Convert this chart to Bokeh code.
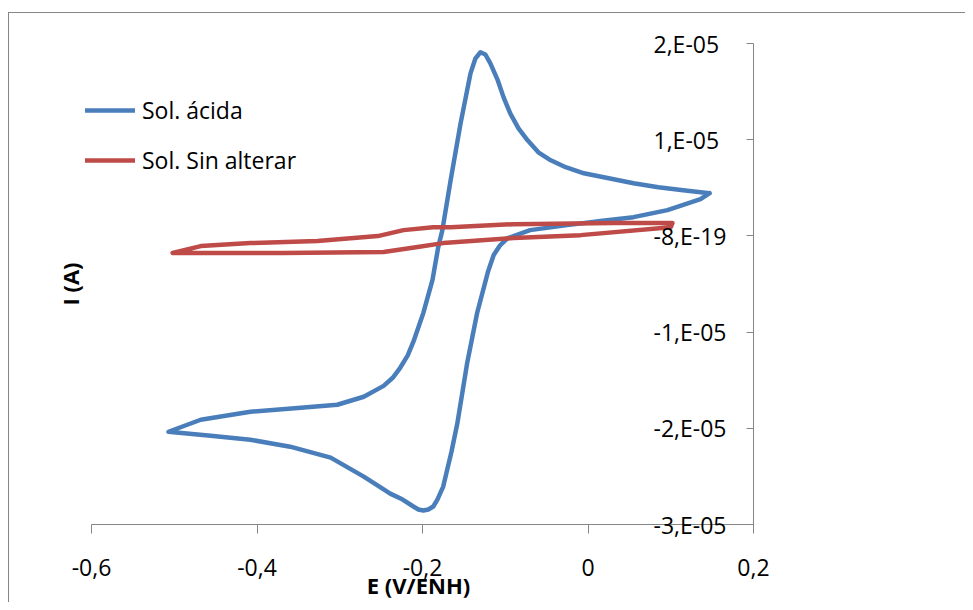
from bokeh.plotting import figure
from bokeh.models import LinearAxis, FixedTicker, Range1d, Legend, LegendItem
from bokeh.embed import file_html
from bokeh.resources import INLINE

# ---- data: E in V vs ENH, I in units of 1e-5 A ----
e_acid = [0.147, 0.136, 0.096, 0.055, 0.015, -0.025, -0.070, -0.097, -0.106, -0.114,
          -0.121, -0.134, -0.146, -0.158, -0.165, -0.175, -0.182, -0.187, -0.193, -0.199,
          -0.205, -0.211, -0.224, -0.239, -0.254, -0.271, -0.311, -0.360, -0.408, -0.456,
          -0.507, -0.468, -0.408, -0.347, -0.303, -0.271, -0.247, -0.236, -0.227, -0.218,
          -0.211, -0.199, -0.188, -0.181, -0.176, -0.166, -0.154, -0.142, -0.136, -0.130,
          -0.124, -0.118, -0.109, -0.102, -0.094, -0.084, -0.073, -0.060, -0.045, -0.027,
          -0.005, 0.025, 0.055, 0.085, 0.115, 0.136, 0.147]
i_acid = [0.444, 0.382, 0.268, 0.195, 0.154, 0.112, 0.060, -0.023, -0.095, -0.199,
          -0.376, -0.801, -1.320, -1.953, -2.243, -2.606, -2.741, -2.813, -2.844, -2.855,
          -2.844, -2.813, -2.741, -2.679, -2.595, -2.502, -2.305, -2.191, -2.119, -2.077,
          -2.036, -1.911, -1.828, -1.786, -1.755, -1.672, -1.559, -1.475, -1.371, -1.245,
          -1.100, -0.801, -0.459, -0.117, 0.060, 0.579, 1.170, 1.689, 1.846, 1.909,
          1.886, 1.793, 1.616, 1.440, 1.274, 1.118, 0.994, 0.869, 0.786, 0.714,
          0.651, 0.600, 0.548, 0.506, 0.475, 0.454, 0.444]

e_plain = [0.102, 0.031, -0.090, -0.166, -0.187, -0.223, -0.254, -0.327, -0.408, -0.468,
           -0.502, -0.468, -0.368, -0.247, -0.206, -0.175, -0.090, -0.009, 0.100, 0.102]
i_plain = [0.133, 0.133, 0.122, 0.091, 0.091, 0.060, -0.002, -0.054, -0.075, -0.106,
           -0.178, -0.178, -0.178, -0.168, -0.116, -0.075, -0.023, 0.008, 0.091, 0.133]

series_names = ["Sol. ácida", "Sol. Sin alterar"]
series_colors = ["#4A7EBB", "#BE4B48"]

x_ticks = [-0.6, -0.4, -0.2, 0.0, 0.2]
x_tick_labels = ["-0,6", "-0,4", "-0,2", "0", "0,2"]
y_ticks = [-3, -2, -1, 0, 1, 2]  # units of 1e-5 A
y_tick_labels = ["-3,E-05", "-2,E-05", "-1,E-05", "-8,E-19", "1,E-05", "2,E-05"]

FONT = "Open Sans"
AXIS_GRAY = "#868686"
W, H = 965, 602

# frame: left edge slightly before -0.6 (room for the legend)
p = figure(width=W, height=H, output_backend="svg", toolbar_location=None,
           x_range=Range1d(-0.6097, x_ticks[-1]), y_range=Range1d(y_ticks[0], y_ticks[-1]),
           x_axis_location="below", y_axis_location="right",
           min_border_left=83, min_border_right=212, min_border_top=43, min_border_bottom=77)
p.background_fill_color = None
p.border_fill_color = None
p.outline_line_color = None
p.xgrid.visible = False
p.ygrid.visible = False
# chart-area border (top and left edges visible, as in the reference)
p.styles = {
    "background": ("linear-gradient(#868686, #868686) 8px 12px / 1px 2000px no-repeat, "
                   "linear-gradient(#868686, #868686) 8px 12px / 2000px 1px no-repeat, "
                   "#ffffff"),
}

# x axis
xa = p.xaxis[0]
xa.bounds = (x_ticks[0], x_ticks[-1])
xa.ticker = FixedTicker(ticks=x_ticks)
xa.major_label_overrides = dict(zip(x_ticks, x_tick_labels))
xa.axis_line_color = AXIS_GRAY
xa.major_tick_line_color = AXIS_GRAY
xa.major_tick_out = 9
xa.major_tick_in = 0
xa.minor_tick_line_color = None
xa.major_label_text_font = FONT
xa.major_label_text_font_size = "23px"
xa.major_label_text_color = "black"
xa.major_label_standoff = 25
xa.axis_label = "E (V/ENH)"
xa.axis_label_text_font = FONT
xa.axis_label_text_font_size = "22px"
xa.axis_label_text_font_style = "bold"
xa.axis_label_text_color = "black"
xa.axis_label_standoff = -9

# y axis (right side, ticks pointing inwards, labels on the inner side)
ya = p.yaxis[0]
ya.ticker = FixedTicker(ticks=y_ticks)
ya.major_label_overrides = dict(zip(y_ticks, y_tick_labels))
ya.axis_line_color = AXIS_GRAY
ya.major_tick_line_color = AXIS_GRAY
ya.major_tick_in = 7
ya.major_tick_out = 0
ya.minor_tick_line_color = None
ya.major_label_text_font = FONT
ya.major_label_text_font_size = "23px"
ya.major_label_text_color = "black"
ya.major_label_standoff = -100

# left axis carrying only the title
la = LinearAxis(ticker=FixedTicker(ticks=[]), axis_line_color=None,
                major_tick_line_color=None, minor_tick_line_color=None,
                axis_label="I (A)", axis_label_text_font=FONT,
                axis_label_text_font_size="22px", axis_label_text_font_style="bold",
                axis_label_text_color="black", axis_label_standoff=-1)
p.add_layout(la, "left")

# curves
r1 = p.line(e_acid, i_acid, line_color=series_colors[0], line_width=4.5,
            line_join="round", line_cap="round")
r2 = p.line(e_plain, i_plain, line_color=series_colors[1], line_width=4.5,
            line_join="round", line_cap="round")

legend = Legend(items=[LegendItem(label=series_names[0], renderers=[r1]),
                       LegendItem(label=series_names[1], renderers=[r2])],
                location=(2, 348), orientation="vertical", padding=0, margin=0,
                spacing=18, glyph_width=50, glyph_height=32, label_height=32,
                label_standoff=7, border_line_color=None, background_fill_alpha=0,
                label_text_font=FONT, label_text_font_size="23px", label_text_color="black")
p.add_layout(legend)

open("out.html", "w").write(file_html(p, INLINE))
